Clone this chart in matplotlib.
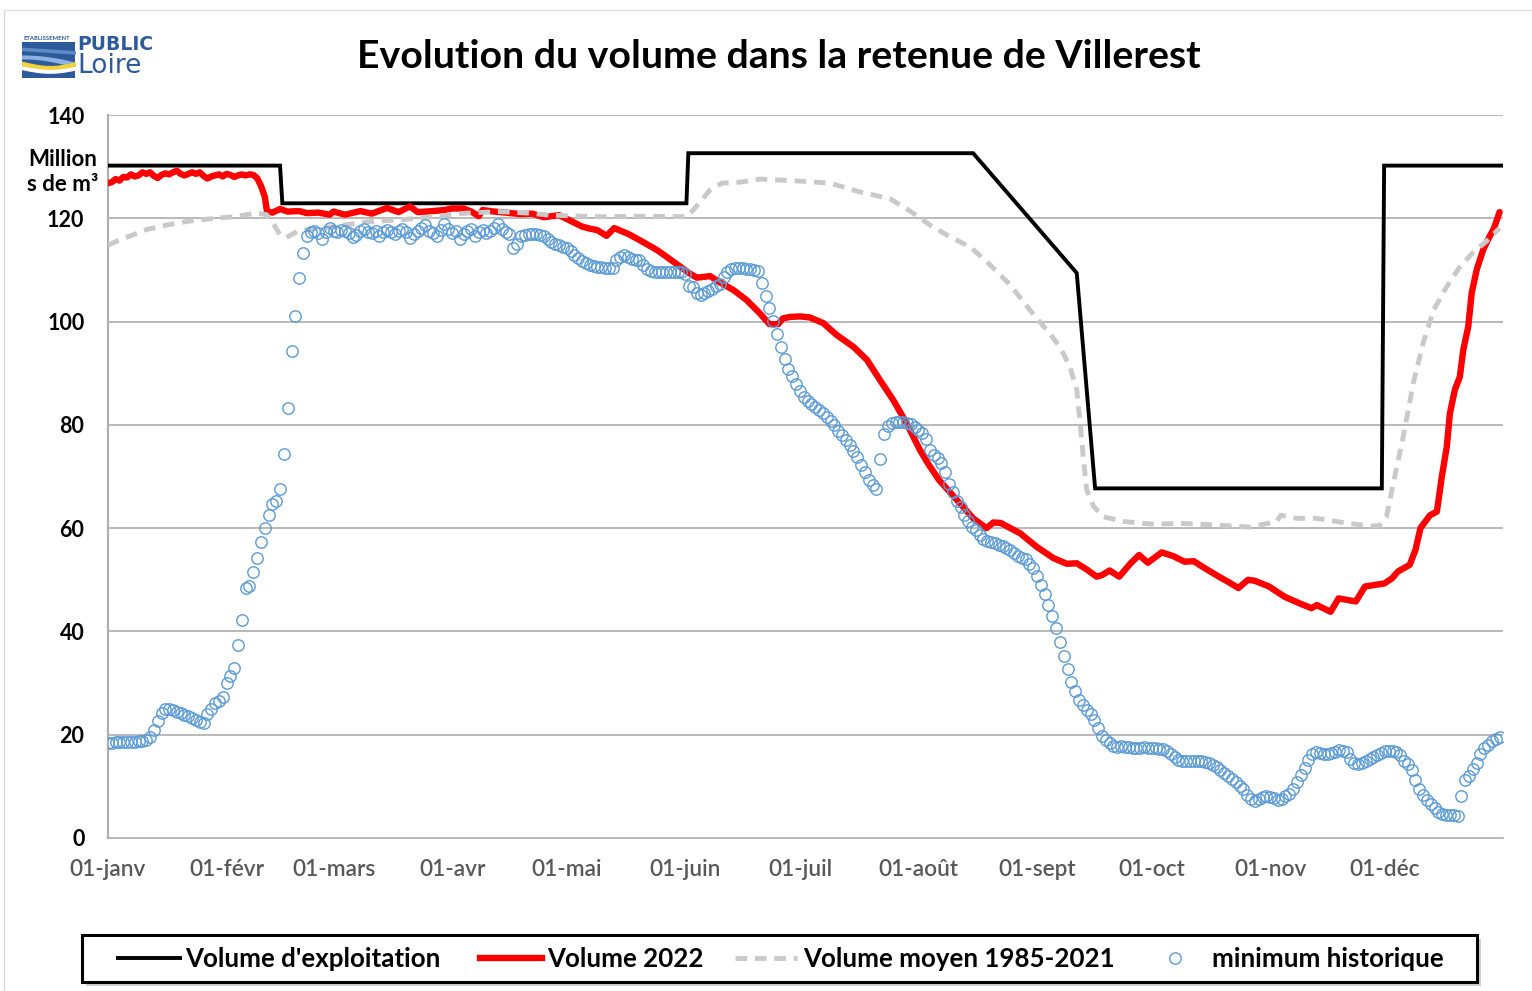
import numpy as np
import matplotlib
matplotlib.use('Agg')
import matplotlib.pyplot as plt
from matplotlib.patches import Rectangle
from matplotlib.lines import Line2D

# ---------------- data ----------------
month_ticks = [0, 31, 59, 90, 120, 151, 181, 212, 243, 273, 304, 334]
month_labels = ['01-janv', '01-févr', '01-mars', '01-avr', '01-mai', '01-juin',
                '01-juil', '01-août', '01-sept', '01-oct', '01-nov', '01-déc']
y_ticks = [0, 20, 40, 60, 80, 100, 120, 140]

# Volume d'exploitation (day of year, Mm3)
expl_days = [0, 45.0, 45.6, 151.3, 151.8, 226.3, 253.4, 258.2, 333.2, 333.8, 364.5]
expl_vals = [130.2, 130.2, 122.9, 122.9, 132.6, 132.6, 109.4, 67.7, 67.7, 130.2, 130.2]

# Volume 2022
v2022_days = [0, 1, 2, 3, 4, 5, 6, 7, 8, 9, 10, 11, 12, 13, 14, 15, 16, 17, 18, 19,
              20, 21, 22, 23, 24, 25, 26, 27, 28, 29, 30, 31, 32, 33, 34, 35, 36, 37,
              38, 39, 40, 41, 41.6, 43, 45, 47, 50, 52, 55, 58, 59, 62, 66, 69, 73, 76,
              79, 81, 85, 88, 90, 93, 95, 97, 98, 101, 104, 108, 111, 114, 118, 121,
              124, 126, 128, 130.4, 132.4, 136, 139, 143.5, 146, 149, 152, 154, 157.5,
              160, 163.6, 167, 170.5, 173, 175.3, 176.5, 178.4, 181, 183.6, 185.5,
              187.1, 190.6, 195, 198.5, 201.9, 205.4, 208.9, 212.4, 214.5, 217.4, 222,
              226.3, 229.8, 231.6, 233.5, 238.6, 242.9, 247.3, 250.8, 253.4, 256,
              258.6, 260, 262, 264.5, 267.5, 269.7, 272, 275.6, 278.6, 281.6, 284, 287,
              290.6, 293, 295.7, 298.2, 300, 303.7, 307.8, 311.8, 314.8, 316.2, 319.8,
              321.9, 326.4, 328.8, 333.9, 335.9, 337.4, 340.5, 342, 343.3, 345.8, 347.6,
              348.9, 350.2, 351, 352.3, 353.6, 354.5, 355.8, 356.7, 358, 359.7, 361.4,
              362.5, 364]
v2022_vals = [126.8, 127.0, 127.6, 127.3, 128.0, 127.9, 128.5, 128.1, 128.3, 128.9,
              128.6, 128.9, 128.2, 127.8, 128.4, 128.7, 128.5, 128.9, 129.2, 128.6,
              128.3, 128.6, 128.9, 128.6, 128.9, 128.2, 127.7, 128.1, 128.3, 128.5,
              128.1, 128.6, 128.4, 128.0, 128.3, 128.5, 128.3, 128.5, 128.4, 127.8,
              126.3, 124.2, 121.3, 121.1, 121.8, 121.3, 121.4, 121.0, 121.1, 120.7,
              121.3, 120.7, 121.4, 120.9, 122.0, 121.2, 122.3, 121.2, 121.4, 121.6,
              121.9, 121.9, 121.3, 120.4, 121.6, 121.3, 121.1, 120.8, 120.9, 120.2,
              120.6, 119.5, 118.4, 118.0, 117.7, 116.6, 118.1, 117.0, 115.8, 113.9,
              112.6, 111.0, 109.4, 108.5, 108.8, 107.6, 106.1, 104.2, 101.6, 99.5,
              99.5, 100.6, 100.9, 101.0, 100.8, 100.2, 99.7, 97.4, 95.1, 92.6, 88.7,
              84.8, 80.3, 75.1, 72.5, 69.3, 65.5, 61.9, 60.0, 61.1, 61.0, 59.0, 56.4,
              54.2, 53.1, 53.2, 52.0, 50.6, 50.9, 51.8, 50.6, 53.2, 54.8, 53.3, 55.3,
              54.6, 53.5, 53.6, 52.2, 50.6, 49.6, 48.4, 50.0, 49.8, 48.7, 46.7, 45.4,
              44.5, 45.1, 43.8, 46.4, 45.8, 48.7, 49.3, 50.3, 51.6, 52.9, 55.8, 60.0,
              62.5, 63.2, 70.0, 75.8, 82.2, 86.8, 89.3, 94.5, 99.0, 105.5, 110.0,
              113.9, 116.5, 118.0, 121.2]

# Volume moyen 1985-2021
avg_days = [0, 3, 6.6, 10, 15.4, 20, 24, 28, 32.8, 38.9, 41.5, 43.2, 45, 46.7, 49.4,
            53, 58.9, 67.7, 76.4, 85.1, 93.8, 102.5, 110, 115.6, 128.7, 140, 151.4,
            153.1, 154.9, 157.5, 160.6, 165.3, 170.5, 181, 188.9, 196.7, 204.5,
            209.8, 215, 220.2, 225.5, 230.7, 236, 241.2, 246.4, 249, 251.6, 253.4,
            254.3, 255.1, 256, 257.8, 260.4, 265.6, 272.6, 281.3, 290, 298.7, 305.7,
            306.8, 308.3, 310.9, 316.1, 324.8, 330, 332.6, 334.4, 336.2, 338.8,
            341.4, 344, 346.7, 350.2, 353.6, 357.2, 360.5, 364]
avg_vals = [114.8, 115.8, 116.8, 117.8, 118.7, 119.3, 119.7, 120.0, 120.3, 121.0,
            120.7, 119.0, 116.8, 116.3, 117.4, 117.9, 118.4, 119.3, 119.7, 120.3,
            121.0, 121.3, 121.0, 120.6, 120.3, 120.4, 120.3, 121.6, 123.2, 125.5,
            126.8, 127.0, 127.6, 127.2, 126.8, 125.1, 123.8, 121.4, 118.7, 116.4,
            114.5, 111.0, 107.1, 102.2, 97.6, 95.1, 91.3, 86.8, 80.3, 73.8, 67.4,
            64.2, 62.2, 61.3, 60.8, 60.9, 60.6, 60.2, 61.3, 62.5, 62.3, 61.9, 61.9,
            60.9, 60.4, 60.5, 62.2, 68.7, 77.7, 88.0, 95.8, 102.2, 106.8, 110.6,
            113.5, 115.5, 118.1]

# minimum historique (one value per day, 1 Jan = day 0)
hist_min = [
    18.4, 18.4, 18.5, 18.5, 18.5, 18.6, 18.6, 18.6, 18.7, 18.8,
    18.9, 19.6, 21.0, 22.6, 24.3, 25.0, 24.9, 24.7, 24.4, 24.2,
    23.9, 23.6, 23.2, 22.8, 22.5, 22.2, 24.0, 25.0, 26.2, 26.6,
    27.3, 30.0, 31.4, 33.0, 37.3, 42.2, 48.4, 48.7, 51.6, 54.2,
    57.3, 60.0, 62.6, 64.6, 65.2, 67.6, 74.4, 83.3, 94.3, 101.1,
    108.4, 113.3, 116.5, 117.4, 117.6, 117.2, 115.9, 117.3, 118.2, 117.6,
    117.4, 117.8, 117.5, 117.2, 116.4, 116.8, 117.6, 117.9, 117.4, 117.2,
    117.6, 116.6, 117.3, 117.8, 117.4, 117.0, 117.6, 118.0, 117.3, 116.2,
    117.0, 117.6, 118.2, 118.7, 117.5, 117.2, 116.6, 117.8, 118.8, 117.9,
    117.2, 117.6, 115.9, 117.0, 117.6, 118.0, 116.6, 117.4, 117.8, 117.2,
    117.6, 118.2, 118.8, 118.0, 117.4, 117.0, 114.2, 115.0, 116.5, 116.8,
    117.0, 117.0, 116.9, 116.8, 116.5, 115.9, 115.5, 115.1, 114.8, 114.5,
    114.2, 113.6, 112.8, 112.3, 111.8, 111.3, 111.0, 110.7, 110.6, 110.5,
    110.4, 110.3, 110.4, 112.0, 112.6, 112.8, 112.6, 112.2, 112.0, 111.9,
    111.0, 110.2, 109.7, 109.6, 109.6, 109.6, 109.6, 109.6, 109.6, 109.6,
    109.6, 109.3, 106.8, 106.6, 105.6, 105.2, 105.6, 106.0, 106.4, 106.8,
    107.2, 108.6, 109.6, 110.2, 110.4, 110.4, 110.3, 110.2, 110.2, 110.0,
    109.8, 107.5, 105.0, 102.6, 100.2, 97.6, 95.0, 92.8, 90.9, 89.4,
    88.0, 86.6, 85.4, 84.7, 84.0, 83.4, 82.8, 82.2, 81.6, 80.8,
    79.9, 78.9, 78.0, 77.1, 76.1, 75.0, 73.8, 72.3, 70.8, 69.4,
    68.4, 67.6, 73.4, 78.3, 79.8, 80.3, 80.5, 80.5, 80.5, 80.4,
    80.1, 79.6, 79.1, 78.5, 77.2, 75.2, 74.2, 73.5, 72.6, 70.8,
    68.6, 67.0, 65.3, 64.0, 62.6, 61.4, 60.3, 59.6, 58.6, 57.9,
    57.5, 57.3, 57.1, 56.8, 56.5, 56.2, 55.8, 55.2, 54.7, 54.3,
    54.0, 53.1, 52.3, 50.8, 49.0, 47.3, 45.2, 43.0, 40.6, 38.0,
    35.3, 32.8, 30.3, 28.4, 26.8, 25.7, 24.8, 24.0, 22.9, 21.3,
    19.8, 18.9, 18.4, 17.9, 17.6, 17.9, 17.6, 17.7, 17.5, 17.4,
    17.5, 17.6, 17.5, 17.5, 17.4, 17.3, 17.2, 16.9, 16.3, 15.6,
    15.2, 15.0, 14.9, 15.0, 15.0, 15.0, 14.9, 14.8, 14.6, 14.2,
    13.8, 13.2, 12.6, 12.0, 11.4, 10.8, 10.1, 9.4, 8.4, 7.5,
    7.1, 7.5, 7.9, 8.1, 7.9, 7.7, 7.4, 7.6, 8.1, 8.6,
    9.5, 10.8, 12.2, 13.6, 15.2, 16.3, 16.6, 16.4, 16.2, 16.2,
    16.4, 16.7, 17.0, 16.9, 16.6, 15.3, 14.6, 14.3, 14.6, 14.9,
    15.3, 15.7, 16.0, 16.4, 16.8, 16.9, 16.9, 16.7, 16.0, 15.0,
    14.3, 13.2, 11.3, 9.5, 8.4, 7.3, 6.5, 5.8, 5.0, 4.6,
    4.5, 4.4, 4.4, 4.3, 8.1, 11.3, 12.0, 13.3, 14.6, 16.3,
    17.4, 18.1, 18.7, 19.1, 19.6]
hist_days = list(range(len(hist_min)))

title = "Evolution du volume dans la retenue de Villerest"
ylabel_text = "Million\ns de m³"
legend_labels = ["Volume d'exploitation", "Volume 2022", "Volume moyen 1985-2021",
                 "minimum historique"]

# ---------------- styles ----------------
c_expl, lw_expl = 'black', 2.8
c_2022, lw_2022 = '#FF0000', 4.6
c_avg, lw_avg, dash_avg = '#C9C9C9', 3.5, (2.4, 1.6)
c_min = '#5B9BD5'

# ---------------- figure ----------------
plt.rcParams['font.family'] = ['Lato', 'DejaVu Sans']
W, H = 1532, 991
fig = plt.figure(figsize=(W / 100, H / 100), dpi=100)
fig.patch.set_facecolor('white')


def fx(x):
    return x / W


def fy(y):
    return 1 - y / H


ax = fig.add_axes([fx(108), fy(838), (1503.4 - 108) / W, (838 - 115) / H])
ax.set_xlim(0, 365)
ax.set_ylim(0, 140)

grid_c = '#A6A6A6'
for v in y_ticks[1:]:
    ax.axhline(v, color=grid_c, lw=1.1, zorder=0)
for s in ['top', 'right']:
    ax.spines[s].set_visible(False)
ax.spines['left'].set_color('#B0B0B0')
ax.spines['left'].set_linewidth(1.6)
ax.spines['bottom'].set_color(grid_c)
ax.spines['bottom'].set_linewidth(1.1)

ax.plot(expl_days, expl_vals, color=c_expl, lw=lw_expl, zorder=3,
        solid_joinstyle='miter')
ax.plot(v2022_days, v2022_vals, color=c_2022, lw=lw_2022, zorder=4,
        solid_joinstyle='round', solid_capstyle='round')
ax.plot(avg_days, avg_vals, color=c_avg, lw=lw_avg, zorder=4.5, dashes=dash_avg)
ax.plot(hist_days, hist_min, linestyle='none', marker='o', markersize=8.2,
        markerfacecolor='none', markeredgecolor=c_min, markeredgewidth=1.0, zorder=5)

ax.set_xticks(month_ticks)
ax.set_xticklabels(month_labels, fontsize=16.3, color='#595959', fontweight='semibold')
ax.set_yticks(y_ticks)
ax.set_yticklabels([str(v) for v in y_ticks], fontsize=15.5, fontweight='bold',
                   color='black')
ax.tick_params(axis='both', length=0)
ax.tick_params(axis='x', pad=15)
ax.tick_params(axis='y', pad=17)

fig.text(fx(63), fy(172), ylabel_text, ha='center', va='center', fontsize=16,
         fontweight='bold', linespacing=1.25)

fig.text(fx(779), fy(57), title, ha='center', va='center', fontsize=28.3,
         fontweight='bold')

# ---------------- legend (drawn box) ----------------
ly = 958
fig.add_artist(Rectangle((fx(86), fy(986)), (1477 - 82) / W, (982 - 935) / H,
                         transform=fig.transFigure, facecolor='#CFCFCF',
                         edgecolor='none', zorder=1))
fig.add_artist(Rectangle((fx(82), fy(982)), (1477 - 82) / W, (982 - 935) / H,
                         transform=fig.transFigure, facecolor='white',
                         edgecolor='black', lw=2.2, zorder=2))
fig.add_artist(Line2D([fx(118), fx(180)], [fy(ly), fy(ly)], color=c_expl,
                      lw=lw_expl, zorder=3))
fig.add_artist(Line2D([fx(480), fx(542)], [fy(ly), fy(ly)], color=c_2022,
                      lw=lw_2022, zorder=3))
fig.add_artist(Line2D([fx(735), fx(797)], [fy(ly), fy(ly)], color=c_avg,
                      lw=lw_avg, dashes=dash_avg, zorder=3))
fig.add_artist(Line2D([fx(1175)], [fy(ly)], linestyle='none', marker='o',
                      markersize=8.2, markerfacecolor='none', markeredgecolor=c_min,
                      markeredgewidth=1.0, zorder=3))
for xt, lab in zip([185, 547, 803, 1212], legend_labels):
    fig.text(fx(xt), fy(ly + 1), lab, ha='left', va='center', fontsize=18.6,
             fontweight='bold', zorder=4)

# thin page border
fig.add_artist(Line2D([fx(4), fx(4)], [fy(10), fy(991)], color='#D9D9D9', lw=1))
fig.add_artist(Line2D([fx(4), fx(1532)], [fy(10), fy(10)], color='#E3E3E3', lw=1))

# logo (Etablissement Public Loire)
lax = fig.add_axes([fx(22), fy(78), (75 - 22) / W, (78 - 42) / H])
lax.set_xlim(0, 1)
lax.set_ylim(0, 1)
lax.axis('off')
xs = np.linspace(0, 1, 50)
lax.add_patch(Rectangle((0, 0), 1, 1, color='#2D5A9B'))
lax.fill_between(xs, 0.55 - 0.25 * xs ** 2, 0.62 - 0.2 * xs ** 2, color='#8DB3E2')
lax.fill_between(xs, 0.35 - 0.15 * np.sin(xs * 3), 0.45 - 0.12 * np.sin(xs * 3),
                 color='#F2D13A')
lax.fill_between(xs, 0.25 - 0.1 * np.sin(xs * 3), 0.32 - 0.1 * np.sin(xs * 3),
                 color='#FFFFFF')
lax.fill_between(xs, 0.78 - 0.1 * xs, 0.84 - 0.1 * xs, color='#5E8AC7')
fig.text(fx(24), fy(38), "ETABLISSEMENT", fontsize=4.2, color='#2D5A9B',
         ha='left', va='center', fontweight='bold')
fig.text(fx(77), fy(45), "PUBLIC", fontsize=13.5, color='#2D5A9B', ha='left',
         va='center', fontweight='bold',
         family=['DejaVu Sans Condensed', 'DejaVu Sans'])
fig.text(fx(77), fy(66), "Loire", fontsize=19, color='#2D5A9B', ha='left',
         va='center', family=['DejaVu Sans Condensed', 'DejaVu Sans'])

fig.savefig('out.png', dpi=100, facecolor='white')
